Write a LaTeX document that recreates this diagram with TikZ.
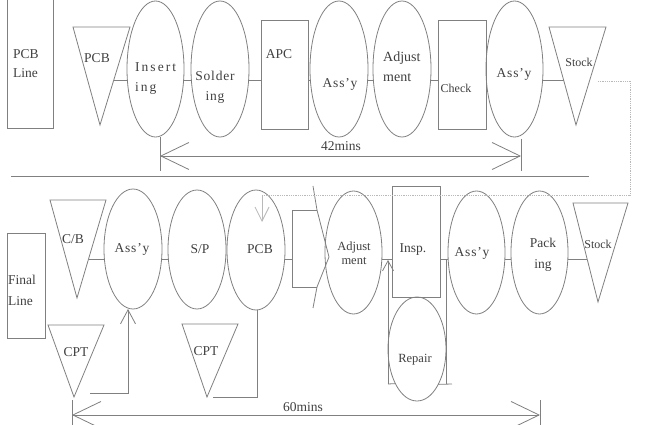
\documentclass[tikz,border=0pt]{standalone}
\usepackage{fontspec}
\setmainfont{Liberation Serif}
\newfontfamily\widefont[LetterSpace=15]{Liberation Serif}
\newfontfamily\midfont[LetterSpace=6]{Liberation Serif}
\usetikzlibrary{shapes.geometric,arrows.meta}
\definecolor{ln}{gray}{0.5}
\definecolor{tx}{gray}{0.25}
\begin{document}
\begin{tikzpicture}[x=1pt,y=-1pt,
  ell/.style={ellipse,draw=ln,line width=0.8pt,inner sep=0pt,outer sep=0pt},
  box/.style={rectangle,draw=ln,line width=0.8pt,inner sep=0pt,outer sep=0pt},
  conn/.style={draw=ln,line width=0.8pt},
  tri/.style={draw=ln,line width=0.8pt,line join=miter},
  lbl/.style={text=tx,inner sep=0pt,font=\fontsize{13.5}{20}\selectfont},
  dimline/.style={conn,{Straight Barb[length=28pt,width=27pt]}-{Straight Barb[length=28pt,width=27pt]}},
  dotl/.style={draw=ln!55,line width=0.8pt,densely dotted},
  smallarrow/.style={conn,-{Straight Barb[length=14pt,width=15pt]}}
]
\useasboundingbox (0,0) rectangle (646,425);
\clip (0,0) rectangle (646,425);
\fill[white] (0,0) rectangle (646,425);

% ---------- top row ----------
\node[box,minimum width=46pt,minimum height=131pt] (pcbline) at (30,63) {};
\coordinate (tA1) at (73,27); \coordinate (tA2) at (130,27); \coordinate (tA3) at (100,125);
\draw[tri] (tA1) -- (tA2) -- (tA3) -- cycle;
\node[ell,minimum width=57pt,minimum height=136pt] (ins) at (155.5,69) {};
\node[ell,minimum width=58pt,minimum height=136pt] (sol) at (220,69) {};
\node[box,minimum width=47pt,minimum height=109pt] (apc) at (284.5,74.5) {};
\node[ell,minimum width=58pt,minimum height=136pt] (assA) at (339,69) {};
\node[ell,minimum width=58pt,minimum height=136pt] (adjA) at (402,69) {};
\node[box,minimum width=48pt,minimum height=109pt] (check) at (462,74.5) {};
\node[ell,minimum width=57pt,minimum height=136pt] (assB) at (514.5,69) {};
\coordinate (tB1) at (549,27); \coordinate (tB2) at (606,27); \coordinate (tB3) at (576,125);
\draw[tri] (tB1) -- (tB2) -- (tB3) -- cycle;

\coordinate (r1) at (0,80);
\coordinate (tAr) at (114,80);
\coordinate (tBl) at (563.5,80);
\draw[conn] (tAr) -- (tAr -| ins.west);
\draw[conn] (ins.east |- r1) -- (sol.west |- r1);
\draw[conn] (sol.east |- r1) -- (apc.west |- r1);
\draw[conn] (apc.east |- r1) -- (assA.west |- r1);
\draw[conn] (assA.east |- r1) -- (adjA.west |- r1);
\draw[conn] (adjA.east |- r1) -- (check.west |- r1);
\draw[conn] (assB.east |- r1) -- (tBl);

% labels top
\node[lbl,anchor=west,align=left,font=\fontsize{13.5}{19}\selectfont] (tpcbline) at (13,64) {PCB\\Line};
\node[lbl] (tpcb) at (97,58) {PCB};
\node[lbl,anchor=west,align=left,font=\widefont\fontsize{13.5}{20}\selectfont] (tins) at (135,79) {Insert\\ing};
\node[lbl,align=center,font=\midfont\fontsize{13.5}{20}\selectfont] (tsol) at (215,87) {Solder\\ing};
\node[lbl] (tapc) at (279,54) {APC};
\node[lbl,font=\midfont\fontsize{13.5}{20}\selectfont] (tassA) at (340,84) {Ass’y};
\node[lbl,anchor=west,align=left,font=\fontsize{14}{20}\selectfont] (tadjA) at (383,67) {Adjust\\ment};
\node[lbl,font=\fontsize{12}{16}\selectfont] (tcheck) at (456,88) {Check};
\node[lbl,font=\midfont\fontsize{13.5}{20}\selectfont] (tassB) at (514,74) {Ass’y};
\node[lbl,font=\fontsize{12}{16}\selectfont] (tstockA) at (579,62) {Stock};

% 42 mins
\coordinate (d42a) at (160,156); \coordinate (d42b) at (521,156);
\draw[conn] (160,137) -- (160,171);
\draw[conn] (521,139) -- (521,171);
\draw[dimline] (d42a) -- (d42b);
\node[lbl] (t42) at (341,146) {42mins};

% separator
\coordinate (sep1) at (11,176); \coordinate (sep2) at (589,176);
\draw[conn] (sep1) -- (sep2);

% ---------- bottom row ----------
\node[box,minimum width=38pt,minimum height=105pt] (final) at (26,285.5) {};
\coordinate (tC1) at (50,200); \coordinate (tC2) at (106,200); \coordinate (tC3) at (77,298);
\draw[tri] (tC1) -- (tC2) -- (tC3) -- cycle;
\node[ell,minimum width=58pt,minimum height=120pt] (assC) at (133,249) {};
\node[ell,minimum width=58pt,minimum height=119pt] (sp) at (197,249.5) {};
\node[ell,minimum width=58pt,minimum height=120pt] (pcbB) at (256,250) {};
\node[ell,minimum width=57pt,minimum height=123pt] (adjB) at (353.5,252.5) {};
\node[box,minimum width=48pt,minimum height=111pt] (insp) at (416,241.5) {};
\node[ell,minimum width=57pt,minimum height=123pt] (assD) at (476.5,252.5) {};
\node[ell,minimum width=57pt,minimum height=123pt] (pack) at (539.5,252.5) {};
\coordinate (tD1) at (573,203); \coordinate (tD2) at (628,203); \coordinate (tD3) at (598,302);
\draw[tri] (tD1) -- (tD2) -- (tD3) -- cycle;
\node[ell,minimum width=58pt,minimum height=104pt] (repair) at (417,349) {};
\coordinate (tE1) at (48,325); \coordinate (tE2) at (104,325); \coordinate (tE3) at (74,397);
\draw[tri] (tE1) -- (tE2) -- (tE3) -- cycle;
\coordinate (tF1) at (182,324); \coordinate (tF2) at (238,324); \coordinate (tF3) at (207,397);
\draw[tri] (tF1) -- (tF2) -- (tF3) -- cycle;

% push arrow
\coordinate (pa0) at (292,259);
\coordinate (pb1) at (313,186); \coordinate (pb2) at (317,210); \coordinate (pb3) at (329,257);
\coordinate (pb4) at (317,287); \coordinate (pb5) at (313,308);
\coordinate (pr1) at (292,210); \coordinate (pr2) at (292,287);
\draw[tri] (pb1) -- (pb2) -- (pb3) -- (pb4) -- (pb5);
\draw[tri] (pb2) -- (pr1) -- (pr2) -- (pb4);

\coordinate (r2) at (0,259);
\coordinate (tCr) at (89,259);
\coordinate (tDl) at (587,259);
\draw[conn] (tCr) -- (tCr -| assC.west);
\draw[conn] (assC.east |- r2) -- (sp.west |- r2);
\draw[conn] (pcbB.east |- r2) -- (pa0);
\draw[conn] (adjB.east |- r2) -- (insp.west |- r2);
\draw[conn] (insp.east |- r2) -- (assD.west |- r2);
\draw[conn] (assD.east |- r2) -- (pack.west |- r2);
\draw[conn] (pack.east |- r2) -- (tDl);

% repair loop
\coordinate (rl0) at (388,260); \coordinate (rl1) at (388,384);
\coordinate (rr0) at (446,259); \coordinate (rr1) at (446,384); \coordinate (rr2) at (452,384);
\draw[conn,-{Straight Barb[length=10pt,width=11pt]}] (rl1) -- (rl0);
\draw[conn] (rl1) -- (repair.238.5);
\draw[conn] (rr0) -- (rr1);
\draw[conn] (repair.301.5) -- (rr2);

% CPT loops
\coordinate (cA0) at (90,393); \coordinate (cA1) at (128,393);
\draw[smallarrow] (cA0) -- (cA1) -- (cA1 |- assC.south);
\coordinate (cB0) at (213,397); \coordinate (cB1) at (257,397);
\draw[conn] (cB0) -- (cB1) -- (cB1 |- pcbB.south);

% dotted return
\coordinate (dt0) at (598,81); \coordinate (dt1) at (630,81);
\coordinate (dt2) at (630,195); \coordinate (dt3) at (262,195); \coordinate (dt4) at (262,222);
\draw[dotl] (dt0) -- (dt1) -- (dt2) -- (dt3);
\draw[draw=ln!55,line width=0.8pt,-{Straight Barb[length=14pt,width=14pt]}] (dt3) -- (dt4);

% 60 mins
\coordinate (d60a) at (72,415); \coordinate (d60b) at (540,415);
\draw[conn] (72,400) -- (72,426);
\draw[conn] (540,400) -- (540,426);
\draw[dimline] (d60a) -- (d60b);
\node[lbl] (t60) at (303,407) {60mins};

% labels bottom
\node[lbl,anchor=west,align=left,font=\fontsize{13.5}{21}\selectfont] (tfinal) at (8,290) {Final\\Line};
\node[lbl] (tcb) at (73,239) {C/B};
\node[lbl,font=\midfont\fontsize{13.5}{20}\selectfont] (tassC) at (132,249) {Ass’y};
\node[lbl] (tsp) at (200,249) {S/P};
\node[lbl] (tpcbB) at (260,249) {PCB};
\node[lbl,align=center,font=\fontsize{12.5}{13.5}\selectfont] (tadjB) at (354,253) {Adjust\\ment};
\node[lbl] (tinsp) at (413,250) {Insp.};
\node[lbl,font=\midfont\fontsize{13.5}{20}\selectfont] (tassD) at (472,253) {Ass’y};
\node[lbl,align=center,font=\fontsize{13.5}{21}\selectfont] (tpack) at (543,255) {Pack\\ing};
\node[lbl,font=\fontsize{12}{16}\selectfont] (tstockB) at (598,244) {Stock};
\node[lbl] (tcptA) at (76,352) {CPT};
\node[lbl] (tcptB) at (206,351) {CPT};
\node[lbl,font=\fontsize{12.5}{16}\selectfont] (trepair) at (415,360) {Repair};
\end{tikzpicture}
\end{document}
